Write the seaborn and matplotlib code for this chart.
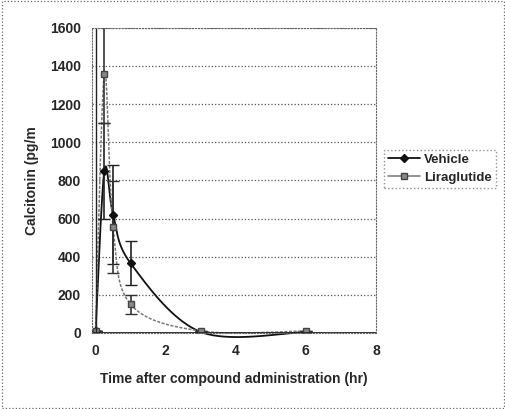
import numpy as np
import pandas as pd
import matplotlib
matplotlib.use("Agg")
import matplotlib.pyplot as plt
import seaborn as sns

# data
time_hr = [0, 0.25, 0.5, 1, 3, 6]
vehicle = [10, 850, 620, 365, 5, 5]
vehicle_err = [0, 250, 260, 115, 0, 0]
liraglutide = [10, 1360, 555, 150, 10, 10]
liraglutide_err = [0, 260, 240, 50, 0, 0]


def smooth(x, y, n=40):
    # Excel-like smoothed line: Bezier segments with Catmull-Rom control points
    p = np.column_stack([x, y]).astype(float)
    out = []
    for i in range(len(p) - 1):
        p0 = p[i - 1] if i > 0 else p[i]
        p3 = p[i + 2] if i + 2 < len(p) else p[i + 1]
        c1 = p[i] + (p[i + 1] - p0) / 6
        c2 = p[i + 1] - (p3 - p[i]) / 6
        t = np.linspace(0, 1, n)[:, None]
        seg = ((1 - t) ** 3) * p[i] + 3 * ((1 - t) ** 2) * t * c1 + 3 * (1 - t) * t ** 2 * c2 + t ** 3 * p[i + 1]
        out.append(seg)
    s = np.vstack(out)
    return s[:, 0], s[:, 1]


sns.set_style("white")
plt.rcParams['font.family'] = ['Liberation Sans', 'DejaVu Sans']

fig = plt.figure(figsize=(5.06, 4.09), dpi=100)
ax = fig.add_axes([0.182, 0.186, 0.561, 0.746])

vx, vy = smooth(time_hr, vehicle)
lx, ly = smooth(time_hr, liraglutide)
sns.lineplot(x=vx, y=vy, ax=ax, color="#111111", lw=1.3, sort=False, estimator=None)
sns.lineplot(x=lx, y=ly, ax=ax, color="#777777", lw=1.1, ls=(0, (2, 1)), sort=False, estimator=None)
for ln in ax.lines:
    ln.set_clip_on(False)

ax.errorbar(time_hr, vehicle, yerr=vehicle_err, fmt="none", ecolor="#222222", elinewidth=1.2, capsize=4)
ax.errorbar(time_hr, liraglutide, yerr=liraglutide_err, fmt="none", ecolor="#333333", elinewidth=1.2, capsize=4)

ax.plot(time_hr, vehicle, ls="none", marker="D", ms=4, color="#111111")
ax.plot(time_hr, liraglutide, ls="none", marker="s", ms=5, color="#888888", mec="#444444")

# legend proxies
ax.plot([], [], color="#111111", lw=1.3, marker="D", ms=4, label="Vehicle")
ax.plot([], [], color="#777777", lw=1.1, marker="s", ms=5, mfc="#888888", mec="#444444", label="Liraglutide")
leg = ax.legend(loc="upper left", bbox_to_anchor=(1.03, 0.6), frameon=True, fancybox=False,
                handlelength=2.4, borderpad=0.3, labelspacing=0.4, handletextpad=0.3,
                borderaxespad=0, prop={"weight": "bold", "size": 9.5})
leg.get_frame().set_edgecolor("#777777")
leg.get_frame().set_linestyle(":")

ax.set_xlim(-0.1, 8)
ax.set_ylim(0, 1600)
ax.set_xticks([0, 2, 4, 6, 8])
ax.set_yticks(np.arange(0, 1601, 200))
ax.grid(axis="y", color="#555555", ls=":", lw=0.9)
ax.axhline(0, color="#222222", lw=1.3)
ax.axvline(0, color="#222222", lw=1.0)
for side in ["top", "right", "bottom", "left"]:
    ax.spines[side].set_linestyle(":")
    ax.spines[side].set_color("#666666")
ax.tick_params(axis="both", labelsize=10, length=0, pad=8)
for lab in ax.get_xticklabels() + ax.get_yticklabels():
    lab.set_fontweight("bold")

ax.set_xlabel("Time after compound administration (hr)", fontsize=10, fontweight="bold", labelpad=10)
ax.set_ylabel("Calcitonin (pg/m", fontsize=10, fontweight="bold", labelpad=8)

# dotted outer border
fig.patches.append(plt.Rectangle((0.003, 0.003), 0.994, 0.994, transform=fig.transFigure,
                                 fill=False, ls=":", lw=0.9, ec="#666666"))

fig.savefig("out.png", dpi=100)
